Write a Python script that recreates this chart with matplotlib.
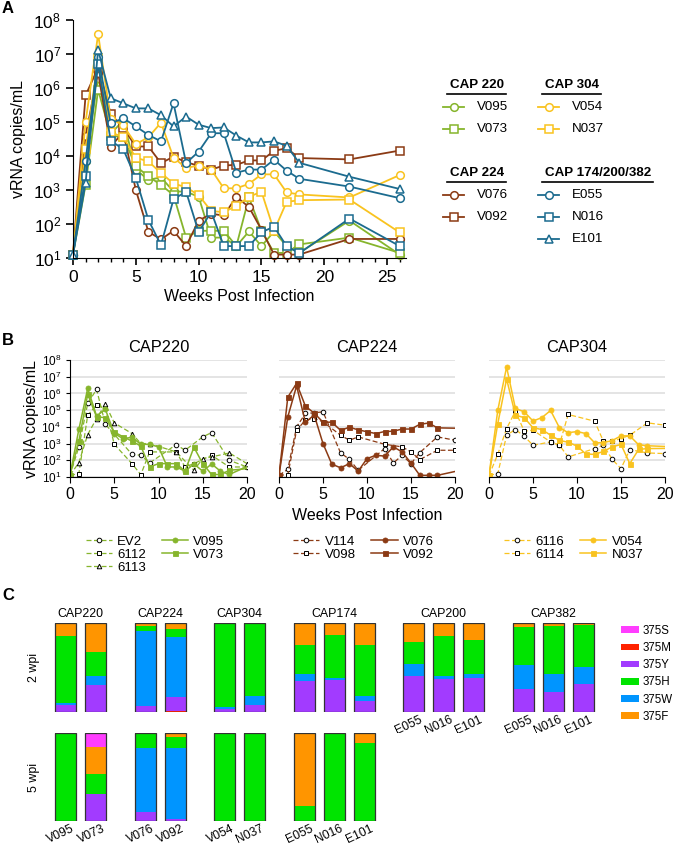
import matplotlib
matplotlib.use('Agg')
import matplotlib.pyplot as plt
import matplotlib.ticker as mticker
import matplotlib.transforms as mtrans
from matplotlib.patches import Patch
import numpy as np

plt.rcParams['font.family'] = ['Liberation Sans', 'DejaVu Sans']
plt.rcParams['mathtext.fontset'] = 'custom'
plt.rcParams['mathtext.rm'] = 'Liberation Sans'
plt.rcParams['mathtext.it'] = 'Liberation Sans:italic'
plt.rcParams['mathtext.bf'] = 'Liberation Sans:bold'

# ---------------- data (log10 vRNA copies/mL) ----------------
weeks = [0, 1, 2, 3, 4, 5, 6, 7, 8, 9, 10, 11, 12, 13, 14, 15, 16, 17, 18, 22, 26]

V095 = [1.1, 3.85, 6.3, 4.65, 5.05, 3.6, 3.3, 3.37, 2.96, 2.95, 2.8, 1.6, 1.6, 1.35, 1.78, 1.35, 1.78, 1.35, 1.15, 2.1, 1.1]
V073 = [1.1, 3.15, 5.95, 4.6, 4.55, 3.7, 3.4, 3.15, 2.85, 1.6, 1.8, 1.8, 1.8, 1.35, 2.78, 1.8, 1.15, 1.15, 1.4, 1.6, 1.15]
V076 = [1.1, 4.6, 6.45, 4.27, 4.71, 3.0, 1.77, 1.55, 1.8, 1.35, 2.1, 2.3, 2.25, 2.8, 2.5, 1.83, 1.1, 1.1, 1.1, 1.56, 1.56]
V092 = [1.1, 5.78, 6.6, 5.24, 4.82, 4.28, 4.28, 3.79, 3.98, 3.82, 3.71, 3.6, 3.72, 3.74, 3.87, 3.87, 4.15, 4.23, 3.94, 3.9, 4.16]
V054 = [1.1, 5.0, 7.58, 5.1, 4.9, 4.35, 4.55, 4.98, 3.95, 3.65, 3.72, 3.6, 3.05, 3.05, 3.18, 3.46, 3.46, 2.93, 2.87, 2.78, 3.44]
N037 = [1.1, 4.2, 6.87, 4.7, 4.55, 3.95, 3.84, 3.5, 3.19, 3.08, 2.85, 2.38, 2.35, 2.53, 2.8, 2.95, 1.8, 2.65, 2.7, 2.72, 1.75]
E055 = [1.1, 3.85, 6.9, 4.96, 5.11, 4.87, 4.62, 4.43, 5.55, 3.79, 4.13, 4.67, 4.67, 3.51, 3.6, 3.6, 3.89, 3.57, 3.33, 3.1, 2.76]
N016 = [1.1, 3.4, 6.7, 4.45, 4.2, 3.35, 2.12, 1.38, 2.73, 2.95, 1.76, 2.36, 1.35, 1.35, 1.35, 1.76, 1.92, 1.35, 1.14, 2.16, 1.35]
E101 = [1.1, 3.2, 7.12, 5.7, 5.55, 5.4, 5.4, 5.2, 4.87, 5.16, 4.92, 4.82, 4.84, 4.6, 4.4, 4.4, 4.43, 4.3, 3.8, 3.39, 3.03]

# panel B comparison animals
EV2_wk = [0, 1, 2, 3, 4, 7, 8, 9, 12, 13, 15, 16, 18, 20]
EV2 = [1.1, 2.8, 5.4, 6.24, 4.15, 2.36, 2.3, 1.84, 2.94, 2.6, 3.4, 3.66, 2.0, 1.6]
A6112_wk = [0, 1, 2, 3, 4, 5, 7, 8, 9, 12, 13, 14, 16, 18, 20]
A6112 = [1.1, 1.2, 4.7, 5.3, 5.1, 2.96, 1.8, 1.14, 2.5, 2.5, 1.6, 1.8, 2.3, 1.6, 1.6]
A6113_wk = [0, 1, 2, 3, 4, 5, 7, 8, 9, 12, 14, 15, 16, 18, 20]
A6113 = [1.1, 1.86, 3.54, 4.5, 5.36, 4.24, 3.6, 3.0, 3.0, 2.5, 1.4, 2.1, 2.2, 2.44, 1.8]
V114_wk = [0, 1, 2, 3, 4, 5, 7, 8, 9, 12, 13, 14, 15, 16, 18, 20]
V114 = [1.1, 1.46, 4.0, 4.8, 4.84, 4.9, 2.44, 2.06, 1.4, 2.7, 1.84, 2.3, 1.8, 2.46, 3.4, 3.2]
V098_wk = [0, 1, 2, 3, 4, 5, 7, 8, 9, 12, 14, 15, 16, 18, 20]
V098 = [1.1, 1.14, 3.8, 4.4, 4.5, 4.3, 3.5, 3.2, 3.4, 2.96, 2.8, 2.5, 2.04, 2.6, 2.6]
A6116_wk = [0, 1, 2, 3, 4, 5, 7, 8, 9, 12, 13, 14, 15, 16, 18, 20]
A6116 = [1.1, 1.2, 3.5, 3.84, 3.44, 2.9, 3.1, 2.9, 2.2, 2.7, 2.9, 2.06, 1.5, 2.64, 2.44, 2.4]
A6114_wk = [0, 1, 2, 3, 4, 5, 7, 8, 9, 12, 13, 14, 15, 16, 18, 20]
A6114 = [1.1, 2.36, 3.9, 4.94, 3.74, 3.8, 3.1, 2.94, 4.74, 4.34, 3.14, 3.14, 3.3, 3.5, 4.24, 4.1]

# panel C: fraction of each residue
groups = ['CAP220', 'CAP224', 'CAP304', 'CAP174', 'CAP200', 'CAP382']
group_sizes = [2, 2, 2, 3, 3, 3]
bar_labels = ['V095', 'V073', 'V076', 'V092', 'V054', 'N037', 'E055', 'N016', 'E101',
              'E055', 'N016', 'E101', 'E055', 'N016', 'E101']
residues = ['375S', '375M', '375Y', '375H', '375W', '375F']
M_2wpi = [0, 0, 0, 0.01, 0, 0, 0, 0, 0, 0, 0, 0, 0, 0, 0]
Y_2wpi = [0.075, 0.30, 0.07, 0.155, 0.035, 0.075, 0.345, 0.355, 0.12, 0.41, 0.37, 0.38, 0.26, 0.23, 0.315]
W_2wpi = [0.026, 0.11, 0.835, 0.68, 0.02, 0.11, 0.08, 0.03, 0.065, 0.125, 0.03, 0.05, 0.27, 0.20, 0.19]
H_2wpi = [0.749, 0.26, 0.065, 0.085, 0.945, 0.815, 0.325, 0.475, 0.57, 0.255, 0.45, 0.38, 0.43, 0.54, 0.47]
F_2wpi = [0.15, 0.33, 0.03, 0.07, 0, 0, 0.25, 0.14, 0.245, 0.21, 0.15, 0.19, 0.04, 0.03, 0.025]
S_2wpi = [0, 0, 0, 0, 0, 0, 0, 0, 0, 0, 0, 0, 0, 0, 0]
M_5wpi = [0, 0, 0, 0, 0, 0, 0, 0, 0]
Y_5wpi = [0, 0.305, 0.10, 0.02, 0, 0, 0, 0, 0]
W_5wpi = [0, 0, 0.725, 0.81, 0, 0, 0, 0, 0]
H_5wpi = [1.0, 0.23, 0.175, 0.12, 1.0, 1.0, 0.17, 1.0, 0.885]
F_5wpi = [0, 0.305, 0, 0.05, 0, 0, 0.83, 0, 0.115]
S_5wpi = [0, 0.16, 0, 0, 0, 0, 0, 0, 0]

# ---------------- styles ----------------
GREEN, BROWN, GOLD, TEAL = '#86B52C', '#8B3A14', '#F9C31F', '#1B6B8F'
res_colors = {'375S': '#FF3DFF', '375M': '#FF2200', '375Y': '#A23BFF',
              '375H': '#00E400', '375W': '#0095FF', '375F': '#FF9500'}

W, H = 673, 850
fig = plt.figure(figsize=(W / 100, H / 100), dpi=100)


def px_box(x0, y0, x1, y1):
    return [x0 / W, 1 - y1 / H, (x1 - x0) / W, (y1 - y0) / H]


def lg(v):
    return 10 ** np.array(v)


# ---------------- panel A ----------------
axA = fig.add_axes(px_box(73, 20, 406, 258))
seriesA = [(V095, GREEN, 'o'), (V073, GREEN, 's'), (V076, BROWN, 'o'), (V092, BROWN, 's'),
           (V054, GOLD, 'o'), (N037, GOLD, 's'), (E055, TEAL, 'o'), (N016, TEAL, 's'),
           (E101, TEAL, '^')]
for vals, c, m in seriesA:
    axA.plot(weeks, lg(vals), color=c, marker=m, mfc='white', mec=c, ms=5.5, mew=1.1,
             lw=1.3, clip_on=False)
axA.set_yscale('log')
axA.set_ylim(10, 1e8)
axA.set_xlim(0, 26.5)
axA.yaxis.set_major_locator(mticker.LogLocator(base=10, numticks=10))
axA.yaxis.set_minor_locator(mticker.NullLocator())
axA.xaxis.set_major_locator(mticker.MultipleLocator(5))
axA.xaxis.set_minor_locator(mticker.MultipleLocator(1))
for s in ['top', 'right']:
    axA.spines[s].set_visible(False)
axA.tick_params(labelsize=12.5, width=1.2, length=5)
axA.tick_params(which='minor', width=1.0, length=3)
axA.set_xlabel('Weeks Post Infection', fontsize=11.5, labelpad=3)
axA.set_ylabel('vRNA copies/mL', fontsize=11.5, labelpad=5)

# ---------------- panel B ----------------
b_specs = [
    ('CAP220', 70, 247, GREEN,
     [(EV2_wk, EV2, 'o', 'EV2'), (A6112_wk, A6112, 's', '6112'), (A6113_wk, A6113, '^', '6113')],
     [(V095, 'o', 'V095'), (V073, 's', 'V073')]),
    ('CAP224', 279, 455, BROWN,
     [(V114_wk, V114, 'o', 'V114'), (V098_wk, V098, 's', 'V098')],
     [(V076, 'o', 'V076'), (V092, 's', 'V092')]),
    ('CAP304', 489, 665, GOLD,
     [(A6116_wk, A6116, 'o', '6116'), (A6114_wk, A6114, 's', '6114')],
     [(V054, 'o', 'V054'), (N037, 's', 'N037')]),
]
for i, (title, x0, x1, c, dashed, solid) in enumerate(b_specs):
    ax = fig.add_axes(px_box(x0, 360, x1, 477))
    handles = []
    for wk, vals, m, name in dashed:
        h, = ax.plot(wk, lg(vals), color=c, ls=(0, (4, 2)), lw=0.9, marker=m, ms=3.3,
                     mfc='white', mec='black', mew=0.7)
        handles.append(h)
    for vals, m, name in solid:
        h, = ax.plot(weeks, lg(vals), color=c, lw=1.1, marker=m, ms=3.6, mfc=c, mec=c, mew=0.6)
        handles.append(h)
    ax.set_yscale('log')
    ax.set_ylim(10, 1e8)
    ax.set_xlim(0, 20)
    ax.yaxis.set_major_locator(mticker.LogLocator(base=10, numticks=10))
    ax.yaxis.set_minor_locator(mticker.NullLocator())
    ax.xaxis.set_major_locator(mticker.MultipleLocator(5))
    ax.grid(axis='y', color='#DDDDDD', lw=1.1)
    ax.set_axisbelow(True)
    for s in ['top', 'right']:
        ax.spines[s].set_visible(False)
    ax.tick_params(axis='x', labelsize=11.5, length=4)
    ax.tick_params(axis='y', labelsize=8.5, length=3)
    if i == 0:
        ax.set_ylabel('vRNA copies/mL', fontsize=11.5, labelpad=2)
    else:
        ax.spines['left'].set_visible(False)
        ax.tick_params(axis='y', left=False, labelleft=False)
    if i == 1:
        ax.set_xlabel('Weeks Post Infection', fontsize=11.5, labelpad=4)
    ax.set_title(title, fontsize=11.8, pad=6)
    labels = [d[3] for d in dashed] + [s[2] for s in solid]
    ax.legend(handles, labels, ncol=2, loc='upper center', bbox_to_anchor=(0.48, -0.5),
              frameon=False, fontsize=9.5, handlelength=2.0, handletextpad=0.4,
              columnspacing=1.2, labelspacing=0.05, borderpad=0, borderaxespad=0)

# ---------------- panel C ----------------
step_gap = 1.65
pos = []
u = 0.0
for gi, n in enumerate(group_sizes):
    for k in range(n):
        pos.append(u)
        u += 1
    u += step_gap - 1
pos = np.array(pos)
n_bottom = sum(group_sizes[:4])
xl = (-0.85, 18.15)


def stack(ax, xs, comps):
    bottom = np.zeros(len(xs))
    for name, vals in comps:
        vals = np.array(vals)
        ax.bar(xs, vals, bottom=bottom, width=0.7, color=res_colors[name], edgecolor='none')
        bottom += vals
    ax.bar(xs, bottom, width=0.7, fill=False, edgecolor='#333333', lw=0.9)


axC1 = fig.add_axes(px_box(40, 623, 610, 712))
stack(axC1, pos, [('375M', M_2wpi), ('375Y', Y_2wpi), ('375W', W_2wpi), ('375H', H_2wpi),
                  ('375F', F_2wpi), ('375S', S_2wpi)])
axC2 = fig.add_axes(px_box(40, 733, 610, 821))
stack(axC2, pos[:n_bottom], [('375M', M_5wpi), ('375Y', Y_5wpi), ('375W', W_5wpi), ('375H', H_5wpi),
                             ('375F', F_5wpi), ('375S', S_5wpi)])
shift = mtrans.ScaledTranslation(6 / 100, -2 / 100, fig.dpi_scale_trans)
for ax, idx in [(axC1, range(n_bottom, len(pos))), (axC2, range(n_bottom))]:
    ax.set_xlim(*xl)
    ax.set_ylim(0, 1)
    for s in ax.spines.values():
        s.set_visible(False)
    ax.set_yticks([])
    idx = list(idx)
    ax.set_xticks(pos[idx])
    ax.set_xticklabels([bar_labels[j] for j in idx], rotation=25, ha='right',
                       rotation_mode='anchor', fontsize=8.7)
    ax.tick_params(axis='x', length=0, pad=0)
    for t in ax.get_xticklabels():
        t.set_transform(t.get_transform() + shift)

start = 0
for g, n in zip(groups, group_sizes):
    xc = pos[start:start + n].mean()
    axC1.text(xc, 1.03, g, transform=axC1.get_xaxis_transform(), ha='center', va='bottom',
              fontsize=8.9)
    start += n
axC1.set_ylabel('2 wpi', fontsize=8.9)
axC2.set_ylabel('5 wpi', fontsize=8.9)
for ax in (axC1, axC2):
    ax.yaxis.set_label_coords(0.0, 0.5)

leg_handles = [Patch(facecolor=res_colors[r], edgecolor='none') for r in residues]
fig.legend(leg_handles, residues, loc='upper left', bbox_to_anchor=(615 / W, 1 - 619 / H),
           frameon=False, fontsize=8.3, handlelength=1.6, handleheight=0.5,
           handletextpad=0.3, labelspacing=0.45, borderpad=0)

# ---------------- panel A legend (drawn by hand) ----------------
ov = fig.add_axes([0, 0, 1, 1])
ov.set_xlim(0, W)
ov.set_ylim(H, 0)
ov.axis('off')
legA = [
    (450, 85, 'CAP 220', GREEN, [('o', 'V095'), ('s', 'V073')]),
    (545, 85, 'CAP 304', GOLD, [('o', 'V054'), ('s', 'N037')]),
    (450, 173, 'CAP 224', BROWN, [('o', 'V076'), ('s', 'V092')]),
    (545, 173, 'CAP 174/200/382', TEAL, [('o', 'E055'), ('s', 'N016'), ('^', 'E101')]),
]
fig.canvas.draw()
renderer = fig.canvas.get_renderer()
inv = ov.transData.inverted()
for x, y, head, c, items in legA:
    t = ov.text(x, y, head, fontsize=9.6, fontweight='bold', ha='left', va='center')
    bb = t.get_window_extent(renderer=renderer)
    (bx0, _), (bx1, _) = inv.transform([[bb.x0, bb.y0], [bb.x1, bb.y1]])
    ov.plot([bx0 - 3, bx1 + 2], [y + 9, y + 9], color='black', lw=1.2)
    for k, (m, name) in enumerate(items):
        yy = y + 22 + 22 * k
        ov.plot([x - 7, x + 14], [yy, yy], color=c, lw=1.3)
        ov.plot([x + 3.5], [yy], color=c, marker=m, mfc='white', mec=c, ms=5.5, mew=1.1)
        ov.text(x + 27, yy, name, fontsize=9.6, ha='left', va='center')

for lab, yy in [('A', 8), ('B', 340), ('C', 596)]:
    ov.text(2, yy, lab, fontsize=12, fontweight='bold', ha='left', va='center')

fig.savefig('out.png', dpi=100)
